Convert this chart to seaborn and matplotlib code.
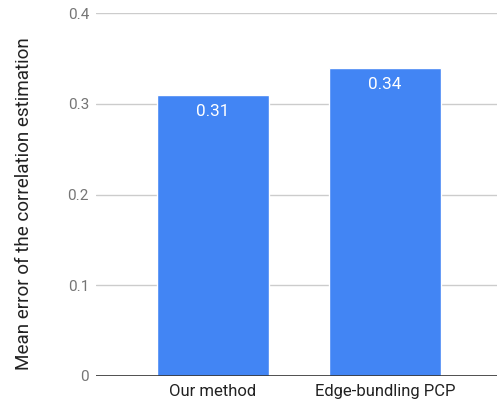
import matplotlib
matplotlib.use('Agg')
import matplotlib.pyplot as plt
import seaborn as sns
import pandas as pd

# --- Data ---
methods = ['Our method', 'Edge-bundling PCP']
mean_error = [0.31, 0.34]
value_labels = ['0.31', '0.34']
y_ticks = [0, 0.1, 0.2, 0.3, 0.4]
y_tick_labels = ['0', '0.1', '0.2', '0.3', '0.4']

BLUE = '#4285F4'

sns.set_theme(style='white')
plt.rcParams['font.family'] = ['Roboto', 'DejaVu Sans']

df = pd.DataFrame({'method': methods, 'error': mean_error})

fig = plt.figure(figsize=(4.99, 4.09), dpi=100)
ax = fig.add_axes([0.1924, 0.0807, 0.8036, 0.8873])

sns.barplot(data=df, x='method', y='error', color=BLUE, saturation=1,
            width=0.651, ax=ax, zorder=3)

ax.set_xlim(-0.68, 1.651)
ax.set_ylim(0, 0.4)
ax.set_yticks(y_ticks)
ax.set_yticklabels(y_tick_labels, color='#757575', fontsize=11)
ax.tick_params(axis='y', length=0, pad=5)
ax.tick_params(axis='x', length=0, pad=6, labelsize=12, labelcolor='#222222')
ax.grid(axis='y', color='#cccccc', linewidth=1, zorder=0)
ax.axhline(0, color='#333333', linewidth=1.2, zorder=4)

for s in ax.spines.values():
    s.set_visible(False)

ax.set_xlabel('')
ax.set_ylabel('Mean error of the correlation estimation', fontsize=13.6,
              color='#222222')
ax.yaxis.set_label_coords(-0.158, 0.474)

for i, (v, lab) in enumerate(zip(mean_error, value_labels)):
    ax.annotate(lab, (i, v), xytext=(0, -7), textcoords='offset points',
                ha='center', va='top', color='white', fontsize=12.3, zorder=5)

fig.savefig('out.png', dpi=100, facecolor='white')
